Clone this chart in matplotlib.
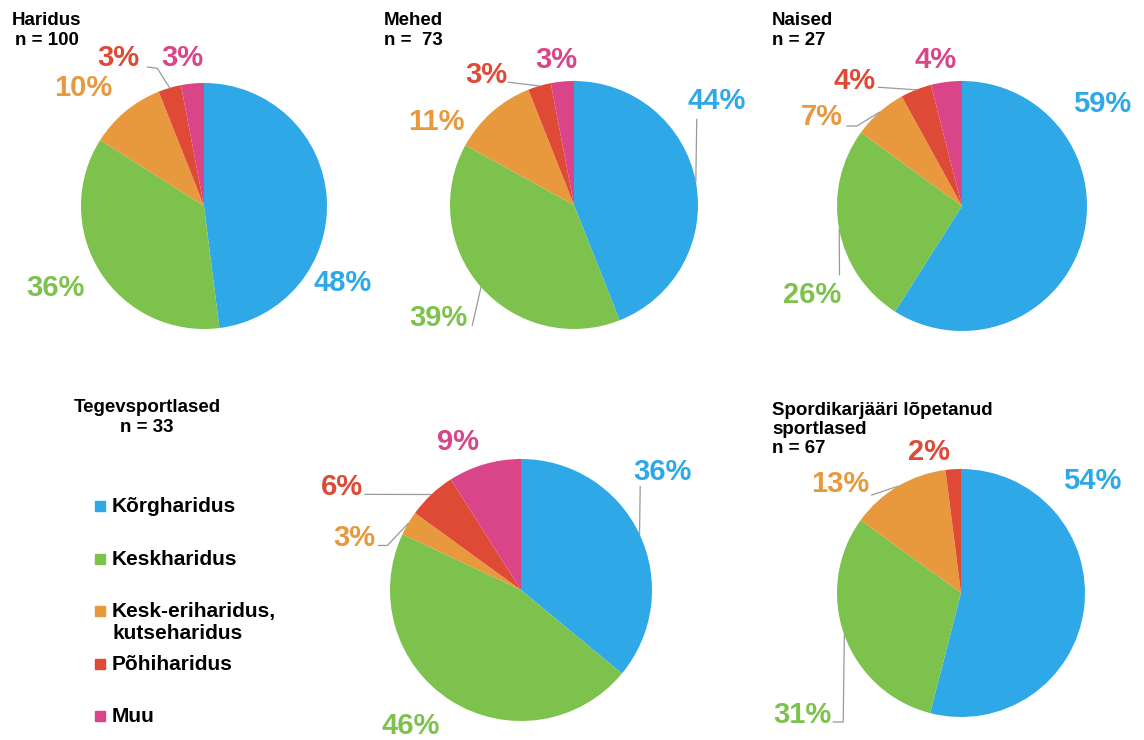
import numpy as np
import matplotlib.pyplot as plt

plt.rcParams['font.family'] = ['Liberation Sans', 'DejaVu Sans']

# education categories and colours
categories = ['Kõrgharidus', 'Keskharidus', 'Kesk-eriharidus,\nkutseharidus', 'Põhiharidus', 'Muu']
colors = ['#2FA8E8', '#7DC24C', '#E8983D', '#DE4A35', '#DA4589']

# shares (%) per group
haridus = [48, 36, 10, 3, 3]
mehed = [44, 39, 11, 3, 3]
naised = [59, 26, 7, 4, 4]
tegev = [36, 46, 3, 6, 9]
lopetanud = [54, 31, 13, 2, 0]

titles = ['Haridus\nn = 100', 'Mehed\nn =  73', 'Naised\nn = 27',
          'Tegevsportlased\nn = 33', 'Spordikarjääri lõpetanud\nsportlased\nn = 67']

W, H = 1144, 740
fig = plt.figure(figsize=(W / 100, H / 100), dpi=100)


def px(x, y):
    return x / W, 1 - y / H


# pie centre / radius in pixels
pies = [
    (haridus, (204, 206, 123)),
    (mehed, (574, 205, 124)),
    (naised, (962, 206, 125)),
    (tegev, (521, 590, 131)),
    (lopetanud, (961, 593, 124)),
]

# label positions (pie units) and leader line start points
label_pos = [
    [(1.13, -0.63), (-1.21, -0.67), (-0.98, 0.96), (-0.70, 1.20), (-0.18, 1.20)],
    [(1.15, 0.84), (-1.09, -0.91), (-1.11, 0.67), (-0.71, 1.05), (-0.14, 1.17)],
    [(1.12, 0.82), (-1.20, -0.71), (-1.12, 0.71), (-0.86, 1.00), (-0.21, 1.17)],
    [(1.08, 0.90), (-0.84, -1.04), (-1.27, 0.40), (-1.37, 0.79), (-0.48, 1.13)],
    [(1.06, 0.90), (-1.28, -0.98), (-0.97, 0.88), (-0.26, 1.14), None],
]
leaders = [
    {3: [(-0.46, 1.13), (-0.38, 1.12)]},
    {0: [(0.99, 0.69)], 1: [(-0.82, -0.97)], 3: [(-0.53, 0.99)]},
    {1: [(-0.98, -0.55)], 2: [(-0.92, 0.64), (-0.84, 0.64)], 3: [(-0.67, 0.95)]},
    {0: [(0.91, 0.79)], 2: [(-1.09, 0.34), (-1.02, 0.34)], 3: [(-1.19, 0.73)]},
    {1: [(-1.03, -1.04), (-0.95, -1.04)], 2: [(-0.72, 0.79)]},
]

for i, (vals, (cx, cy, r)) in enumerate(pies):
    x0, y0 = px(cx - r, cy + r)
    ax = fig.add_axes([x0, y0, 2 * r / W, 2 * r / H])
    wedges, _ = ax.pie(vals, colors=colors, startangle=90, counterclock=False,
                       radius=1, wedgeprops=dict(linewidth=0))
    ax.set_xlim(-1, 1)
    ax.set_ylim(-1, 1)
    ax.set_aspect('equal')
    ax.axis('off')
    for j, v in enumerate(vals):
        if v == 0 or label_pos[i][j] is None:
            continue
        lx, ly = label_pos[i][j]
        ax.text(lx, ly, f'{v}%', color=colors[j], fontsize=21, fontweight='bold',
                ha='center', va='center', clip_on=False)
        if j in leaders[i]:
            w = wedges[j]
            mid = np.deg2rad((w.theta1 + w.theta2) / 2)
            pts = leaders[i][j] + [(np.cos(mid), np.sin(mid))]
            xs, ys = zip(*pts)
            ax.plot(xs, ys, color='#9a9a9a', lw=0.9, clip_on=False)

# group titles
title_kw = dict(va='top', fontsize=13.5, fontweight='bold')
fig.text(*px(47, 12), titles[0], ha='center', multialignment='center',
         linespacing=1.25, **title_kw)
fig.text(*px(384, 12), titles[1], ha='left', linespacing=1.25, **title_kw)
fig.text(*px(772, 12), titles[2], ha='left', linespacing=1.25, **title_kw)
fig.text(*px(147, 399), titles[3], ha='center', multialignment='center',
         linespacing=1.25, **title_kw)
# last title one line at a time
for k, line in enumerate(titles[4].split('\n')):
    fig.text(*px(772, 402 + 19 * k), line, ha='left', **title_kw)

# legend
legend_rows = [506, 559, 611, 664, 716]
for k, (lab, y) in enumerate(zip(categories, legend_rows)):
    sx, sy = px(95, y + 5)
    fig.patches.append(plt.Rectangle((sx, sy), 10 / W, 10 / H, color=colors[k],
                                     transform=fig.transFigure, figure=fig))
    fig.text(*px(112, y - 9), lab, ha='left', va='top', fontsize=15,
             fontweight='bold', linespacing=1.2)

fig.savefig('out.png', dpi=100, facecolor='white')
